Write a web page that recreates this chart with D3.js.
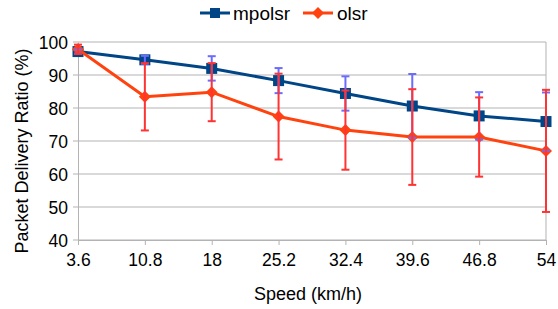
<!DOCTYPE html>
<html>
<head>
<meta charset="utf-8">
<script src="https://cdn.jsdelivr.net/npm/d3@7"></script>
<style>
  body { margin: 0; background: #fff; }
  text { font-family: "Liberation Sans", Arial, sans-serif; }
</style>
</head>
<body>
<div id="chart"></div>
<script>
var speeds = ['3.6', '10.8', '18', '25.2', '32.4', '39.6', '46.8', '54']
var mpolsr = [97.1, 94.6, 92.0, 88.3, 84.4, 80.6, 77.6, 75.9]
var mpolsrErr = [0.6, 1.2, 3.7, 3.8, 5.2, 9.7, 7.2, 8.8]
var olsr = [97.8, 83.4, 84.8, 77.4, 73.3, 71.2, 71.2, 67.0]
var olsrErr = [1.4, 10.2, 8.8, 13.0, 12.0, 14.5, 12.0, 18.5]
var yTicks = [40, 50, 60, 70, 80, 90, 100]

var margin = { top: 42, left: 78, right: 12, bottom: 69 }
var width = 558 - margin.left - margin.right,
    height = 309 - margin.top - margin.bottom

var svg = d3.select('#chart').append('svg')
    .attr('width', 558)
    .attr('height', 309)

var g = svg.append('g')
    .attr('transform', 'translate(' + margin.left + ',' + margin.top + ')')

var x = d3.scalePoint().domain(speeds).range([0, width])
var y = d3.scaleLinear().domain([40, 100]).range([height, 0])

// grid
g.selectAll('.grid').data(yTicks).enter().append('line')
    .attr('x1', -5).attr('x2', width)
    .attr('y1', function(d) { return y(d) }).attr('y2', function(d) { return y(d) })
    .attr('stroke', '#b3b3b3').attr('stroke-width', 1)

g.append('line').attr('x1', width).attr('x2', width).attr('y1', 0).attr('y2', height)
    .attr('stroke', '#b3b3b3')

var yAxis = g.append('g').call(d3.axisLeft(y).tickValues(yTicks).tickSize(0).tickPadding(10))
yAxis.select('.domain').attr('stroke', '#b3b3b3')
yAxis.selectAll('text').attr('font-size', '17.5px').attr('fill', '#000').attr('dy', '0.36em')

var xAxis = g.append('g').attr('transform', 'translate(0,' + height + ')')
    .call(d3.axisBottom(x).tickSize(5).tickPadding(9))
xAxis.select('.domain').attr('stroke', '#b3b3b3')
xAxis.selectAll('line').attr('stroke', '#b3b3b3')
xAxis.selectAll('text').attr('font-size', '17.5px').attr('fill', '#000')

var line = function(vals) {
    return d3.line()
        .x(function(d, i) { return x(speeds[i]) })
        .y(function(d) { return y(d) })(vals)
}

g.append('path').attr('d', line(mpolsr)).attr('fill', 'none')
    .attr('stroke', '#004586').attr('stroke-width', 3)
g.selectAll('.sq').data(mpolsr).enter().append('rect')
    .attr('x', function(d, i) { return x(speeds[i]) - 5.5 })
    .attr('y', function(d) { return y(d) - 5.5 })
    .attr('width', 11).attr('height', 11)
    .attr('fill', '#004586')

g.append('path').attr('d', line(olsr)).attr('fill', 'none')
    .attr('stroke', '#ff420e').attr('stroke-width', 3)
g.selectAll('.dm').data(olsr).enter().append('path')
    .attr('d', 'M0,-6L6,0L0,6L-6,0Z')
    .attr('transform', function(d, i) { return 'translate(' + x(speeds[i]) + ',' + y(d) + ')' })
    .attr('fill', '#ff420e')

function errorBars(vals, errs, color) {
    var eb = g.append('g').attr('stroke', color).attr('stroke-width', 2)
    vals.forEach(function(v, i) {
        var cx = x(speeds[i])
        var top = y(v + errs[i]), bot = y(v - errs[i])
        eb.append('line').attr('x1', cx).attr('x2', cx).attr('y1', top).attr('y2', bot)
        eb.append('line').attr('x1', cx - 4).attr('x2', cx + 4).attr('y1', top).attr('y2', top)
        eb.append('line').attr('x1', cx - 4).attr('x2', cx + 4).attr('y1', bot).attr('y2', bot)
    })
}
errorBars(mpolsr, mpolsrErr, '#6b6bff')
errorBars(olsr, olsrErr, '#ff3333')

// axis titles
svg.append('text').text('Speed (km/h)')
    .attr('x', 308).attr('y', 300)
    .attr('text-anchor', 'middle').attr('font-size', '18px')

svg.append('text').text('Packet Delivery Ratio (%)')
    .attr('transform', 'translate(28,' + (margin.top + height / 2 + 10) + ') rotate(-90)')
    .attr('text-anchor', 'middle').attr('font-size', '18px')

// legend
var leg = svg.append('g')
leg.append('line').attr('x1', 200).attr('x2', 230).attr('y1', 13).attr('y2', 13)
    .attr('stroke', '#004586').attr('stroke-width', 3)
leg.append('rect').attr('x', 210).attr('y', 8).attr('width', 10).attr('height', 10).attr('fill', '#004586')
leg.append('text').text('mpolsr').attr('x', 233).attr('y', 19.5).attr('font-size', '19px')

leg.append('line').attr('x1', 303).attr('x2', 333).attr('y1', 13).attr('y2', 13)
    .attr('stroke', '#ff420e').attr('stroke-width', 3)
leg.append('path').attr('d', 'M318,7L324,13L318,19L312,13Z').attr('fill', '#ff420e')
leg.append('text').text('olsr').attr('x', 337).attr('y', 19.5).attr('font-size', '19px')
</script>
</body>
</html>
